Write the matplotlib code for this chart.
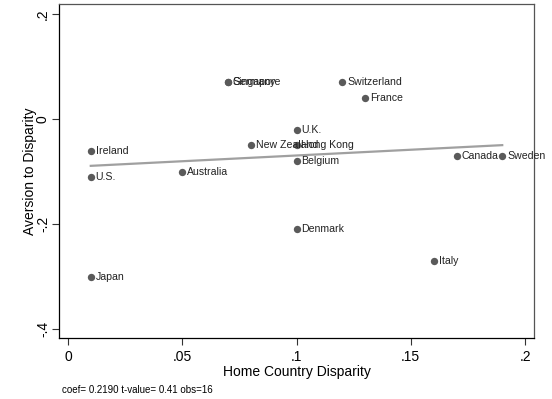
import numpy as np
import matplotlib.pyplot as plt

plt.rcParams['font.family'] = ['Liberation Sans', 'DejaVu Sans']

countries = ['Ireland', 'U.S.', 'Japan', 'Australia', 'Germany', 'Singapore',
             'New Zealand', 'U.K.', 'Hong Kong', 'Belgium', 'Denmark',
             'Switzerland', 'France', 'Canada', 'Sweden', 'Italy']
disparity = [0.01, 0.01, 0.01, 0.05, 0.07, 0.07,
             0.08, 0.10, 0.10, 0.10, 0.10,
             0.12, 0.13, 0.17, 0.19, 0.16]
aversion = [-0.06, -0.11, -0.30, -0.10, 0.07, 0.07,
            -0.05, -0.02, -0.05, -0.08, -0.21,
            0.07, 0.04, -0.07, -0.07, -0.27]
coef = 0.2190
xticks = [0, 0.05, 0.1, 0.15, 0.2]
xticklabels = ['0', '.05', '.1', '.15', '.2']
yticks = [-0.4, -0.2, 0, 0.2]
yticklabels = ['-.4', '-.2', '0', '.2']

x = np.array(disparity)
y = np.array(aversion)

fig = plt.figure(figsize=(5.52, 3.99), dpi=100)
ax = fig.add_axes([59 / 552, 1 - 338 / 399, 475 / 552, 334 / 399])

# regression line through the means with the reported slope
b0 = y.mean() - coef * x.mean()
xl = np.array([x.min(), x.max()])
ax.plot(xl, b0 + coef * xl, color='#a0a0a0', lw=1.6, zorder=1)

ax.scatter(x, y, s=28, color='#5a5a5a', zorder=2, linewidths=0)
for name, xi, yi in zip(countries, x, y):
    ax.annotate(name, (xi, yi), xytext=(3.5, 0), textcoords='offset points',
                va='center', ha='left', fontsize=7.6, color='#222222')

ax.set_xlim(-0.0039, 0.2039)
ax.set_ylim(-0.417, 0.219)
ax.set_xticks(xticks)
ax.set_xticklabels(xticklabels, fontsize=10)
ax.set_yticks(yticks)
ax.set_yticklabels(yticklabels, fontsize=10, rotation=90, va='center')
ax.tick_params(length=5, width=0.8, color='#333333')
ax.tick_params(axis='y', pad=1.5)
for s in ax.spines.values():
    s.set_linewidth(0.9)
ax.spines['right'].set_color('#555555')
ax.spines['top'].set_color('#555555')

ax.set_xlabel('Home Country Disparity', fontsize=10, labelpad=1)
ax.set_ylabel('Aversion to Disparity', fontsize=10, labelpad=-1)

fig.text(62 / 552, 1 - 390 / 399, 'coef= 0.2190 t-value= 0.41 obs=16',
         fontsize=7, va='center', ha='left')

fig.savefig('out.png', dpi=100)
